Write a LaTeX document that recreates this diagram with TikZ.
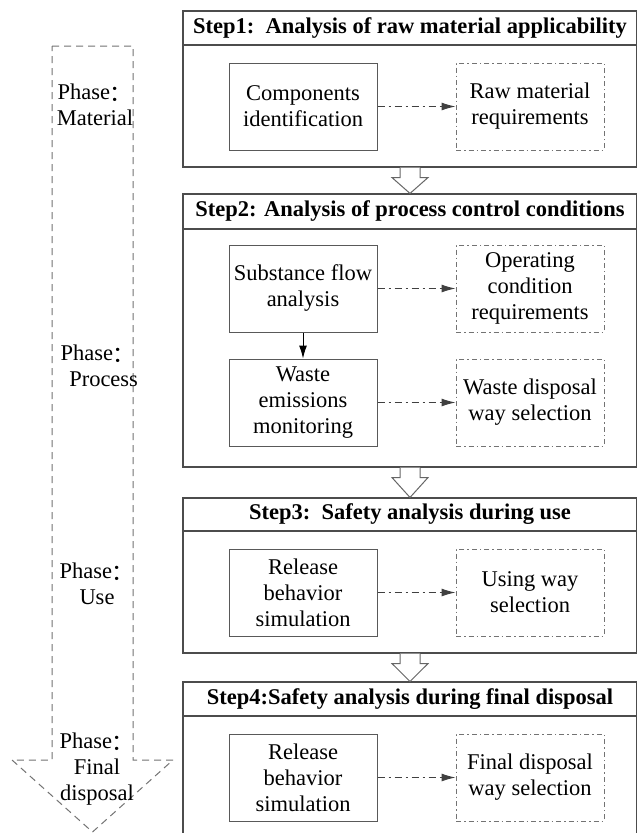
\documentclass[tikz,border=0pt]{standalone}
\usepackage{fontspec}
\setmainfont{Liberation Serif}
\newfontfamily\cjk{Noto Sans CJK SC}
\usetikzlibrary{arrows.meta,calc}

\newcommand{\phasecolon}{\raisebox{-2pt}{\cjk ：}}

\tikzset{
  txt/.style={font=\fontsize{22.5}{26}\selectfont, align=center},
  headbox/.style={draw=black!70, line width=1.1pt, minimum width=454pt, inner sep=0pt, font=\bfseries\fontsize{22.5}{26}\selectfont},
  bodybox/.style={draw=black!70, line width=1.1pt, minimum width=454pt, inner sep=0pt},
  taskbox/.style={txt, draw=black!65, line width=1pt, minimum width=148pt, minimum height=87pt, inner sep=0pt},
  goalbox/.style={taskbox, draw=black!55, dash pattern=on 5pt off 3pt on 1.5pt off 3pt},
  dashdot/.style={draw=black!75, line width=1pt, dash pattern=on 7pt off 4pt on 2pt off 4pt, -{Latex[length=14pt,width=8pt]}},
  solidarrow/.style={draw=black, line width=1pt, -{Latex[length=13pt,width=8pt]}},
  hollow/.style={draw=black!60, fill=white, line width=1pt},
  phasearrow/.style={draw=black!55, line width=1pt, dash pattern=on 7pt off 5pt}
}

\begin{document}
\begin{tikzpicture}[x=1pt, y=-1pt]
\clip (0,0) rectangle (637,833);
\fill[white] (0,0) rectangle (637,833);

% phase arrow on the left
\draw[phasearrow] (52,46) -- (133,46) -- (133,760) -- (173,760) -- (92.5,832) -- (12,760) -- (52,760) -- cycle;
\node[txt] (PhaseA) at (95,105) {Phase\phasecolon\\Material};
\node[txt] (PhaseB) at (98,366) {Phase\phasecolon\\\ \ Process};
\node[txt] (PhaseC) at (97,584) {Phase\phasecolon\\Use};
\node[txt] (PhaseD) at (97,769) {Phase\phasecolon\\Final\\disposal};

% steps
\node[headbox, minimum height=34pt] (H1) at (410,28) {Step1:\ \ Analysis of raw material applicability};
\node[bodybox, minimum height=122pt] (B1) at (410,106) {};
\node[headbox, minimum height=35pt] (H2) at (410,211.5) {Step2: Analysis of process control conditions};
\node[bodybox, minimum height=238pt] (B2) at (410,348) {};
\node[headbox, minimum height=33pt] (H3) at (410,514.5) {Step3:\ \ Safety analysis during use};
\node[bodybox, minimum height=122pt] (B3) at (410,592) {};
\node[headbox, minimum height=34pt] (H4) at (410,699) {Step4:Safety analysis during final disposal};
\node[bodybox, minimum height=129pt] (B4) at (410,780.5) {};

\node[taskbox] (Comp) at (303,106.5) {Components\\identification};
\node[goalbox] (RawReq) at (530,106.5) {Raw material\\requirements};
\node[taskbox] (Flow) at (303,288.5) {Substance flow\\analysis};
\node[goalbox] (OpReq) at (530,288.5) {Operating\\condition\\requirements};
\node[taskbox] (Emis) at (303,402.5) {Waste\\emissions\\monitoring};
\node[goalbox] (WasteSel) at (530,402.5) {Waste disposal\\way selection};
\node[taskbox] (RelUse) at (303,592.5) {Release\\behavior\\simulation};
\node[goalbox] (UseSel) at (530,592.5) {Using way\\selection};
\node[taskbox] (RelFin) at (303,777.5) {Release\\behavior\\simulation};
\node[goalbox] (FinSel) at (530,777.5) {Final disposal\\way selection};

\draw[dashdot] (Comp) -- (RawReq);
\draw[dashdot] (Flow) -- (OpReq);
\draw[dashdot] (Emis) -- (WasteSel);
\draw[dashdot] (RelUse) -- (UseSel);
\draw[dashdot] (RelFin) -- (FinSel);
\draw[solidarrow] (Flow) -- (Emis);

% hollow arrows between steps
\foreach \a/\b in {B1/H2,B2/H3,B3/H4}
  \draw[hollow] ($(\a.south)+(-10,0)$) -- ($(\a.south)+(-10,10)$) -- ($(\a.south)+(-18,10)$)
    -- ($(\b.north)+(0,0)$) -- ($(\a.south)+(18,10)$) -- ($(\a.south)+(10,10)$) -- ($(\a.south)+(10,0)$);
\end{tikzpicture}
\end{document}
